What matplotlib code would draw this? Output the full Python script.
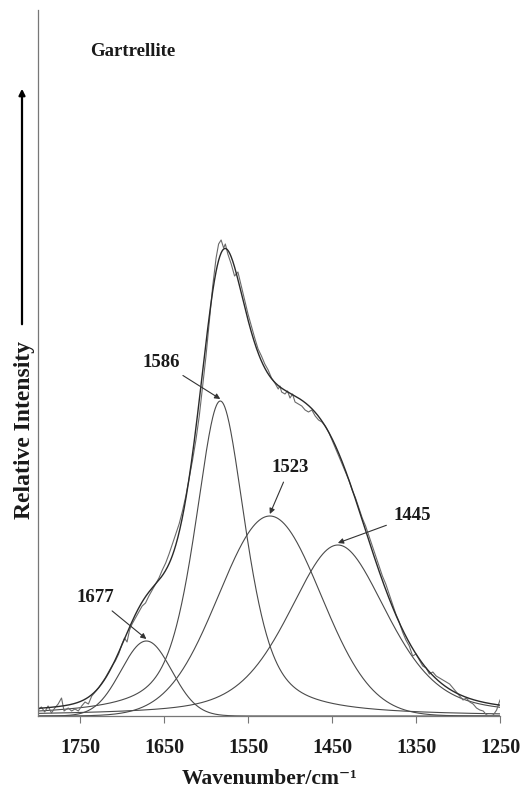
import numpy as np
import matplotlib
matplotlib.use("Agg")
import matplotlib.pyplot as plt
from matplotlib.patches import FancyArrowPatch

# ---- data ----
title_text = "Gartrellite"
band_labels = ["1677", "1586", "1523", "1445"]
band_centers = [1671, 1583, 1524, 1443]
band_heights = [75, 315, 200, 171]
band_fwhm = [71, 72, 143, 139]
band_lorentz = [0.0, 0.59, 0.0, 0.42]
# label text positions (wavenumber, intensity)
label_wn = [1732, 1653, 1500, 1355]
label_int = [119, 354, 249, 200]

meas_wn = [1800, 1796, 1792, 1788, 1784, 1780, 1776, 1772, 1769, 1764, 1760, 1756,
           1752, 1748, 1744, 1740, 1736, 1732, 1728, 1724, 1720, 1716, 1712, 1708,
           1704, 1700, 1697, 1694, 1691, 1688, 1684, 1680, 1676, 1672, 1668, 1664,
           1660, 1656, 1652, 1648, 1644, 1640, 1636, 1632, 1628, 1624, 1620, 1616,
           1612, 1608, 1604, 1600, 1596, 1592, 1588, 1585, 1582, 1579, 1577, 1574,
           1570, 1566, 1562, 1558, 1554, 1550, 1546, 1542, 1538, 1534, 1530, 1526,
           1522, 1518, 1514, 1512, 1510, 1506, 1503, 1500, 1497, 1494, 1490, 1486,
           1482, 1478, 1474, 1470, 1466, 1462, 1458, 1454, 1450, 1446, 1442, 1438,
           1434, 1430, 1426, 1422, 1418, 1414, 1410, 1406, 1402, 1398, 1394, 1390,
           1386, 1382, 1378, 1374, 1370, 1366, 1362, 1358, 1354, 1350, 1346, 1342,
           1338, 1334, 1330, 1326, 1322, 1318, 1314, 1310, 1306, 1302, 1298, 1294,
           1290, 1286, 1282, 1278, 1274, 1270, 1266, 1262, 1258, 1254, 1250]
meas_int = [6, 9, 4, 10, 3, 8, 12, 18, 5, 8, 5, 7,
            5, 10, 14, 12, 20, 24, 28, 33, 38, 44, 50, 55,
            62, 72, 78, 74, 86, 92, 98, 104, 110, 113, 120, 126,
            132, 138, 146, 153, 162, 172, 182, 192, 205, 220, 238, 256,
            276, 300, 330, 360, 395, 430, 458, 472, 476, 468, 472, 462,
            452, 440, 444, 430, 416, 402, 390, 378, 367, 360, 352, 346,
            338, 333, 327, 330, 324, 322, 325, 318, 322, 314, 312, 310,
            306, 304, 306, 300, 296, 294, 290, 284, 276, 268, 260, 252,
            244, 236, 226, 218, 208, 198, 190, 180, 170, 160, 150, 140,
            132, 122, 112, 102, 94, 84, 76, 70, 60, 62, 56, 50,
            48, 42, 44, 40, 38, 36, 34, 32, 28, 24, 20, 16,
            18, 14, 12, 8, 6, 5, 1, 0, 1, 6, 16]

x_ticks = [1750, 1650, 1550, 1450, 1350, 1250]


def pseudo_voigt(x, c, h, w, eta):
    g = np.exp(-4 * np.log(2) * ((x - c) / w) ** 2)
    l = 1.0 / (1.0 + ((x - c) / (w / 2)) ** 2)
    return h * (eta * l + (1 - eta) * g)


fig = plt.figure(figsize=(5.29, 7.92), dpi=100)
ax = fig.add_axes([38 / 529, 1 - 716 / 792, (500 - 38) / 529, (716 - 10) / 792])

xs = np.linspace(1800, 1250, 1101)
comps = [pseudo_voigt(xs, c, h, w, e) for c, h, w, e in
         zip(band_centers, band_heights, band_fwhm, band_lorentz)]
envelope = np.sum(comps, axis=0)

for comp in comps:
    ax.plot(xs, comp, color="#4a4a4a", lw=0.8)
ax.plot(meas_wn, meas_int, color="#6a6a6a", lw=0.8)
ax.plot(xs, envelope, color="#2a2a2a", lw=1.0)

serif = ["Liberation Serif", "DejaVu Serif"]
for lab, lx, ly, c, h in zip(band_labels, label_wn, label_int, band_centers, band_heights):
    ax.annotate(lab, xy=(c, h + 2), xytext=(lx, ly), ha="center", va="center",
                fontsize=13.5, fontweight="bold", family=serif, color="#1a1a1a",
                arrowprops=dict(arrowstyle="-|>", color="#333333", lw=0.8,
                                mutation_scale=8, shrinkA=3, shrinkB=0))

ax.set_xlim(1800, 1250)
ax.set_ylim(0, 706)
ax.set_xticks(x_ticks)
ax.set_xticklabels([str(t) for t in x_ticks], fontsize=14.5, fontweight="bold",
                   family=serif, color="#1a1a1a")
ax.tick_params(axis="x", direction="out", length=5, width=0.8, color="#777777", pad=11)
ax.set_yticks([])
for s in ["top", "right"]:
    ax.spines[s].set_visible(False)
for s in ["left", "bottom"]:
    ax.spines[s].set_color("#777777")
    ax.spines[s].set_linewidth(0.9)

fig.text(90 / 529, 1 - 51 / 792, title_text, ha="left", va="center", fontsize=13.5,
         fontweight="bold", family=serif, color="#1a1a1a")
fig.text(269 / 529, 1 - 779 / 792, "Wavenumber/cm\u207b\u00b9",
         ha="center", va="center", fontsize=15.5, fontweight="bold", family=serif,
         color="#1a1a1a")
fig.text(25 / 529, 1 - 430 / 792, "Relative Intensity", rotation=90, ha="center",
         va="center", fontsize=17, fontweight="bold", family=serif, color="#1a1a1a")
fig.add_artist(FancyArrowPatch(
    (22 / 529, 1 - 327 / 792), (22 / 529, 1 - 86 / 792), transform=fig.transFigure,
    arrowstyle="-|>", mutation_scale=9, lw=1.6, color="black"))

fig.savefig("out.png", dpi=100)
